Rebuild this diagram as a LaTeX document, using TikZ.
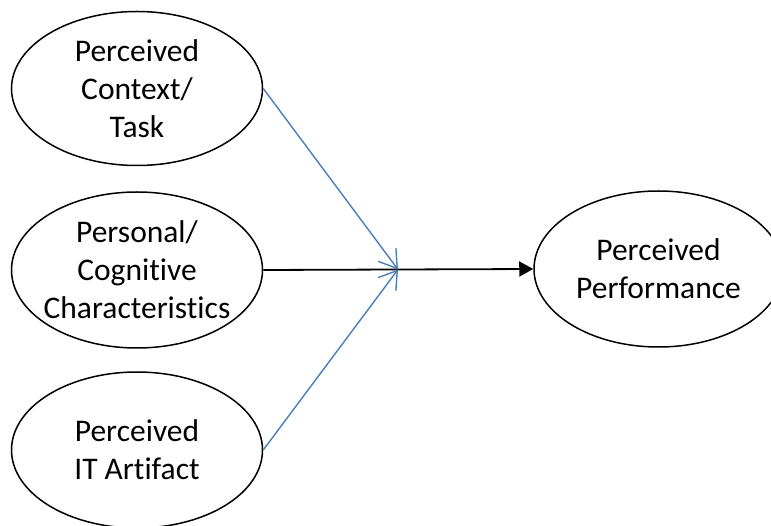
\documentclass[tikz,border=0pt]{standalone}
\usepackage{fontspec}
\setmainfont{Carlito}[Ligatures={NoCommon}]
\usetikzlibrary{shapes.geometric,arrows.meta}
\definecolor{linkblue}{HTML}{4A7EBB}
\tikzset{
  construct/.style={ellipse, draw=black, line width=1.5pt, inner sep=0pt,
    minimum width=251pt, minimum height=154pt},
  caption/.style={align=center, inner sep=0pt,
    font=\fontsize{31.5pt}{38pt}\selectfont},
  feed/.style={draw=linkblue, line width=1.4pt,
    -{Straight Barb[length=17pt,width=22pt,line width=1.4pt]}},
  mainpath/.style={draw=black, line width=1.8pt,
    -{Triangle[length=14pt,width=15pt]}}
}
\begin{document}
\begin{tikzpicture}[x=1pt,y=1pt]
\useasboundingbox (0,0) rectangle (771,-526);
% construct ellipses
\node[construct] (ctx) at (137,-88.5) {};
\node[construct, minimum height=156pt] (pers) at (137,-270) {};
\node[construct, minimum height=156pt] (art) at (137,-450) {};
\node[construct, minimum width=249pt, minimum height=156pt] (perf) at (658.5,-269) {};
% their captions
\node[caption] (ctxtext) at (ctx.center) {Perceived\\Context/\\Task};
\node[caption] (perstext) at (pers.center) {Personal/\\Cognitive\\Characteristics};
\node[caption] (arttext) at (art.center) {Perceived\\IT Artifact};
\node[caption] (perftext) at (perf.center) {Perceived\\Performance};
% connectors
\coordinate (join) at (398,-269.5);
\draw[mainpath] (pers.east) -- (perf.west);
\draw[feed] (ctx.east) -- (join);
\draw[feed] (art.east) -- (join);
\end{tikzpicture}
\end{document}
